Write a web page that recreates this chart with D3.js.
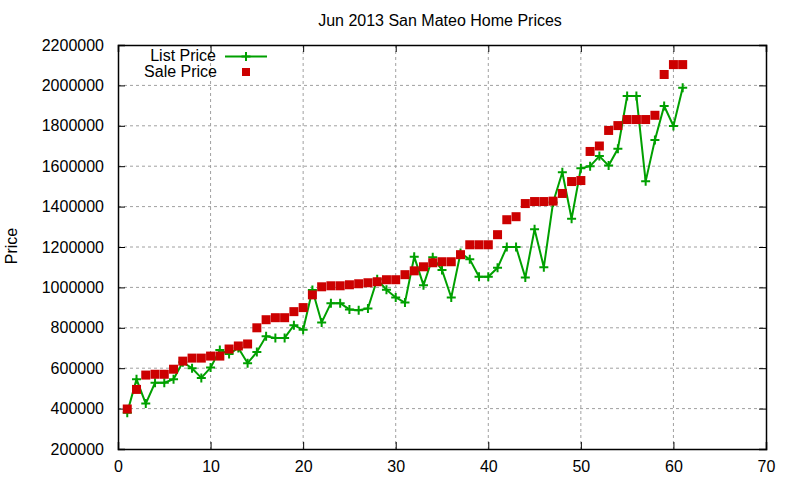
<!DOCTYPE html>
<html>
<head>
<meta charset="utf-8">
<script src="https://cdn.jsdelivr.net/npm/d3@7"></script>
<style>
  body { margin: 0; padding: 0; background: white; }
  svg text { font-family: "Liberation Sans", Arial, sans-serif; fill: #000; }
  .grid line { stroke: #a0a0a0; stroke-width: 1; stroke-dasharray: 3,3; }
</style>
</head>
<body>
<svg id="chart" width="800" height="480"></svg>
<script>
// month index (Jun 2013 report), list vs sale price
var months = d3.range(1, 62);
var listPrice = [380000, 545000, 425000, 528000, 528000, 545000, 630000, 600000, 552000, 603000,
  690000, 670000, 700000, 625000, 680000, 758000, 750000, 750000, 813000, 790000,
  987000, 826000, 922000, 922000, 891000, 887000, 896000, 1040000, 988000, 950000,
  925000, 1152000, 1011000, 1149000, 1086000, 950000, 1170000, 1139000, 1053000, 1053000,
  1097000, 1200000, 1200000, 1049000, 1288000, 1100000, 1420000, 1570000, 1340000, 1590000,
  1600000, 1650000, 1603000, 1686000, 1947000, 1947000, 1525000, 1730000, 1898000, 1799000,
  1988000];
var salePrice = [398000, 495000, 566000, 570000, 570000, 595000, 635000, 650000, 650000, 660000,
  660000, 695000, 710000, 720000, 800000, 840000, 850000, 850000, 880000, 900000,
  963000, 1003000, 1008000, 1008000, 1013000, 1018000, 1023000, 1028000, 1038000, 1038000,
  1063000, 1082000, 1102000, 1122000, 1127000, 1127000, 1162000, 1211000, 1211000, 1211000,
  1261000, 1335000, 1350000, 1415000, 1425000, 1425000, 1427000, 1465000, 1524000, 1529000,
  1673000, 1700000, 1777000, 1801000, 1831000, 1831000, 1831000, 1852000, 2054000, 2103000,
  2103000];
var xTicks = [0, 10, 20, 30, 40, 50, 60, 70];
var yTicks = [200000, 400000, 600000, 800000, 1000000, 1200000, 1400000, 1600000, 1800000, 2000000, 2200000];
var seriesNames = ["List Price", "Sale Price"];

var svg = d3.select("#chart");
var pLeft = 118, pRight = 766, pTop = 45, pBottom = 449;
var listColor = "#00a000", saleColor = "#cc0000";

var x = d3.scaleLinear().domain([0, 70]).range([pLeft, pRight]);
var y = d3.scaleLinear().domain([200000, 2200000]).range([pBottom, pTop]);

// grid
var grid = svg.append("g").attr("class", "grid");
grid.selectAll(".gx").data(xTicks.slice(1, -1)).enter().append("line")
  .attr("x1", function(d){ return x(d); }).attr("x2", function(d){ return x(d); })
  .attr("y1", pTop).attr("y2", pBottom);
grid.selectAll(".gy").data(yTicks.slice(1, -1)).enter().append("line")
  .attr("y1", function(d){ return y(d); }).attr("y2", function(d){ return y(d); })
  .attr("x1", pLeft).attr("x2", pRight);

// axes, gnuplot style: inward ticks, mirrored
svg.append("g").attr("transform", "translate(0," + pBottom + ")")
  .call(d3.axisBottom(x).tickValues(xTicks).tickSize(-7).tickPadding(12).tickFormat(d3.format("d")));
svg.append("g").attr("transform", "translate(0," + pTop + ")")
  .call(d3.axisTop(x).tickValues(xTicks).tickSize(-7).tickFormat(""));
svg.append("g").attr("transform", "translate(" + pLeft + ",0)")
  .call(d3.axisLeft(y).tickValues(yTicks).tickSize(-7).tickPadding(14).tickFormat(d3.format("d")));
svg.append("g").attr("transform", "translate(" + pRight + ",0)")
  .call(d3.axisRight(y).tickValues(yTicks).tickSize(-7).tickFormat(""));
svg.selectAll(".domain").attr("stroke", "#000").attr("stroke-width", 1.5);
svg.selectAll(".tick line").attr("stroke", "#000");
svg.selectAll(".tick text").style("font-size", "16px").style("font-family", "Liberation Sans, Arial, sans-serif");

// title and y label
svg.append("text").attr("x", 440).attr("y", 26).attr("text-anchor", "middle")
  .style("font-size", "16px").text("Jun 2013 San Mateo Home Prices");
svg.append("text").attr("transform", "translate(17,246) rotate(-90)").attr("text-anchor", "middle")
  .style("font-size", "16px").text("Price");

function plus(g, cx, cy, s) {
  g.append("path").attr("d", "M" + (cx - s) + "," + cy + "H" + (cx + s) + "M" + cx + "," + (cy - s) + "V" + (cy + s))
    .attr("stroke", listColor).attr("stroke-width", 2).attr("fill", "none");
}

// list price line + points
var line = d3.line().x(function(d, i){ return x(months[i]); }).y(function(d){ return y(d); });
var plot = svg.append("g");
plot.append("path").datum(listPrice).attr("d", line)
  .attr("fill", "none").attr("stroke", listColor).attr("stroke-width", 2);
listPrice.forEach(function(d, i){ plus(plot, x(months[i]), y(d), 4.5); });

// sale price squares
plot.selectAll("rect.sale").data(salePrice).enter().append("rect")
  .attr("x", function(d, i){ return x(months[i]) - 4.5; })
  .attr("y", function(d){ return y(d) - 4.5; })
  .attr("width", 9).attr("height", 9).attr("fill", saleColor);

// legend
var lg = svg.append("g");
lg.append("text").attr("x", 216).attr("y", 61).attr("text-anchor", "end").style("font-size", "16px").text(seriesNames[0]);
lg.append("line").attr("x1", 225).attr("x2", 267).attr("y1", 56.5).attr("y2", 56.5)
  .attr("stroke", listColor).attr("stroke-width", 2);
plus(lg, 246, 56.5, 4.5);
lg.append("text").attr("x", 217).attr("y", 77).attr("text-anchor", "end").style("font-size", "16px").text(seriesNames[1]);
lg.append("rect").attr("x", 242).attr("y", 68).attr("width", 8).attr("height", 8).attr("fill", saleColor);
</script>
</body>
</html>
